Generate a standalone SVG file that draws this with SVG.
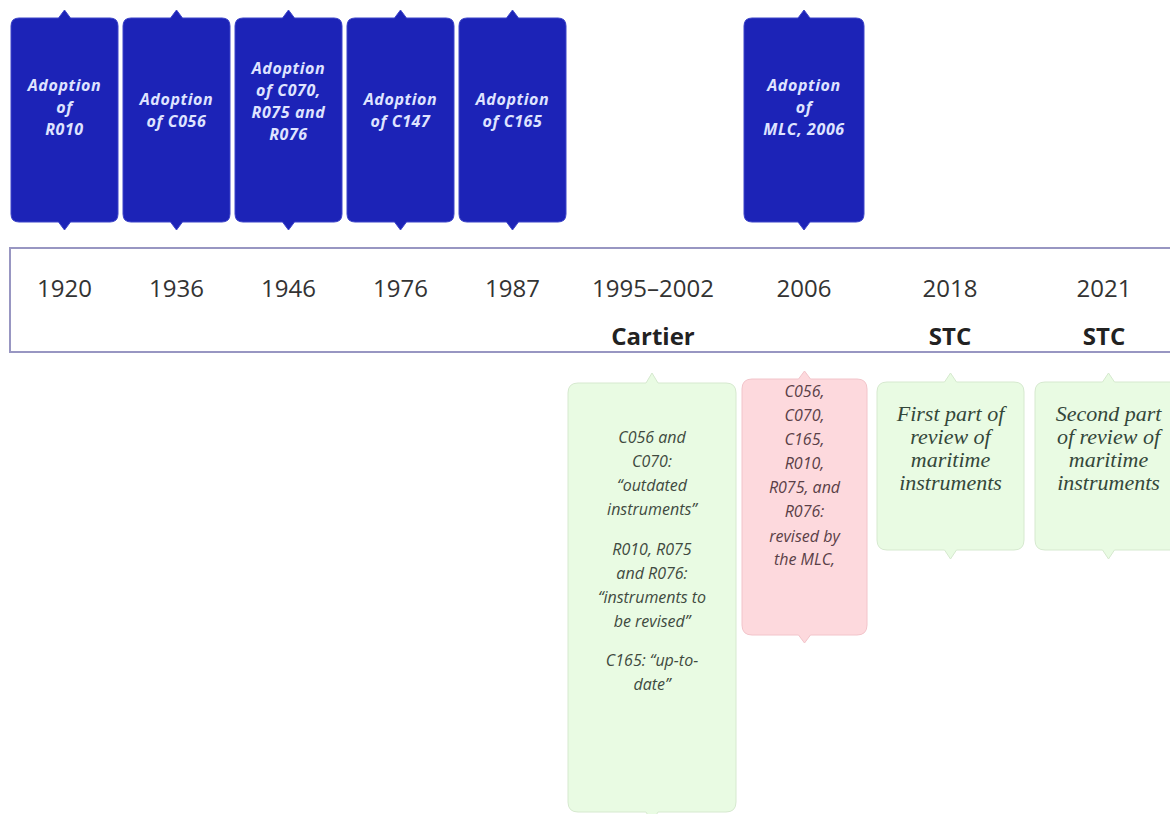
<svg xmlns="http://www.w3.org/2000/svg" width="1170" height="814" viewBox="0 0 1170 814">
<style>
.bg{fill:#ffffff}
.blue{fill:#1c23b7;stroke:#3d45c9;stroke-width:1}
.green{fill:#e9fbe3;stroke:#d6e9cf;stroke-width:1}
.pink{fill:#fdd9dd;stroke:#f2c4ca;stroke-width:1}
.axis{fill:#ffffff;stroke:#9896c2;stroke-width:2}
.bt{font-family:"Open Sans","DejaVu Sans",sans-serif;font-size:16px;font-weight:bold;font-style:italic;fill:#dfe3ff;text-anchor:middle;letter-spacing:0.6px}
.yr{font-family:"Open Sans","DejaVu Sans",sans-serif;font-size:24px;fill:#333333;text-anchor:middle}
.sec{font-family:"Open Sans","DejaVu Sans",sans-serif;font-size:24px;font-weight:bold;fill:#222222;text-anchor:middle}
.gt{font-family:"Open Sans","DejaVu Sans",sans-serif;font-size:16px;font-style:italic;fill:#3f4a3f;text-anchor:middle}
.pt{font-family:"Open Sans","DejaVu Sans",sans-serif;font-size:16px;font-style:italic;fill:#5a4047;text-anchor:middle}
.st{font-family:"Liberation Serif","DejaVu Serif",serif;font-size:22px;font-style:italic;fill:#34473a;text-anchor:middle}
</style>
<defs>
<path id="bbox" d="M8,0 L47.5,0 L53.5,-8 L59.5,0 L99,0 Q107,0 107,8 L107,196 Q107,204 99,204 L59.5,204 L53.5,212 L47.5,204 L8,204 Q0,204 0,196 L0,8 Q0,0 8,0 Z"/>
<path id="sbox" d="M10,0 L67.5,0 L73.5,-9 L79.5,0 L137,0 Q147,0 147,10 L147,158 Q147,168 137,168 L79.5,168 L73.5,177 L67.5,168 L10,168 Q0,168 0,158 L0,10 Q0,0 10,0 Z"/>
</defs>
<rect class="bg" x="0" y="0" width="1170" height="814"/>

<g id="timeline">
<rect class="axis" x="10" y="248" width="1180" height="104"/>
<text class="yr" x="64.5" y="297">1920</text>
<text class="yr" x="176.5" y="297">1936</text>
<text class="yr" x="288.5" y="297">1946</text>
<text class="yr" x="400.5" y="297">1976</text>
<text class="yr" x="512.5" y="297">1987</text>
<text class="yr" x="653" y="297">1995–2002</text>
<text class="yr" x="804" y="297">2006</text>
<text class="yr" x="950" y="297">2018</text>
<text class="yr" x="1104" y="297">2021</text>
<text class="sec" x="653" y="345">Cartier</text>
<text class="sec" x="950" y="345">STC</text>
<text class="sec" x="1104" y="345">STC</text>
</g>

<g id="connectors"></g>

<g id="adopt-1920">
<use href="#bbox" class="blue" transform="translate(11,18)"/>
<text class="bt" x="64.5" y="91">Adoption</text>
<text class="bt" x="64.5" y="113">of</text>
<text class="bt" x="64.5" y="135">R010</text>
</g>
<g id="adopt-1936">
<use href="#bbox" class="blue" transform="translate(123,18)"/>
<text class="bt" x="176.5" y="105">Adoption</text>
<text class="bt" x="176.5" y="127">of C056</text>
</g>
<g id="adopt-1946">
<use href="#bbox" class="blue" transform="translate(235,18)"/>
<text class="bt" x="288.5" y="74">Adoption</text>
<text class="bt" x="288.5" y="96">of C070,</text>
<text class="bt" x="288.5" y="118">R075 and</text>
<text class="bt" x="288.5" y="140">R076</text>
</g>
<g id="adopt-1976">
<use href="#bbox" class="blue" transform="translate(347,18)"/>
<text class="bt" x="400.5" y="105">Adoption</text>
<text class="bt" x="400.5" y="127">of C147</text>
</g>
<g id="adopt-1987">
<use href="#bbox" class="blue" transform="translate(459,18)"/>
<text class="bt" x="512.5" y="105">Adoption</text>
<text class="bt" x="512.5" y="127">of C165</text>
</g>
<g id="adopt-2006">
<path class="blue" transform="translate(744,18)" d="M8,0 L54,0 L60,-8 L66,0 L112,0 Q120,0 120,8 L120,196 Q120,204 112,204 L66,204 L60,212 L54,204 L8,204 Q0,204 0,196 L0,8 Q0,0 8,0 Z"/>
<text class="bt" x="804" y="91">Adoption</text>
<text class="bt" x="804" y="113">of</text>
<text class="bt" x="804" y="135">MLC, 2006</text>
</g>

<g id="cartier-note">
<path class="green" transform="translate(568,383)" d="M10,0 L78,0 L84,-10 L90,0 L158,0 Q168,0 168,10 L168,419 Q168,429 158,429 L90,429 L84,439 L78,429 L10,429 Q0,429 0,419 L0,10 Q0,0 10,0 Z"/>
<text class="gt" x="652" y="443">C056 and</text>
<text class="gt" x="652" y="467">C070:</text>
<text class="gt" x="652" y="491">“outdated</text>
<text class="gt" x="652" y="515">instruments”</text>
<text class="gt" x="652" y="555">R010, R075</text>
<text class="gt" x="652" y="579">and R076:</text>
<text class="gt" x="652" y="603">“instruments to</text>
<text class="gt" x="652" y="627">be revised”</text>
<text class="gt" x="652" y="666">C165: “up-to-</text>
<text class="gt" x="652" y="690">date”</text>
</g>
<g id="mlc-note">
<path class="pink" transform="translate(742,379)" d="M10,0 L56.5,0 L62.5,-8 L68.5,0 L115,0 Q125,0 125,10 L125,246 Q125,256 115,256 L68.5,256 L62.5,264 L56.5,256 L10,256 Q0,256 0,246 L0,10 Q0,0 10,0 Z"/>
<text class="pt" x="804.5" y="397">C056,</text>
<text class="pt" x="804.5" y="421">C070,</text>
<text class="pt" x="804.5" y="445">C165,</text>
<text class="pt" x="804.5" y="469">R010,</text>
<text class="pt" x="804.5" y="493">R075, and</text>
<text class="pt" x="804.5" y="517">R076:</text>
<text class="pt" x="804.5" y="542">revised by</text>
<text class="pt" x="804.5" y="565">the MLC,</text>
</g>
<g id="stc-2018-note">
<use href="#sbox" class="green" transform="translate(877,382)"/>
<text class="st" x="950.5" y="421">First part of</text>
<text class="st" x="950.5" y="444">review of</text>
<text class="st" x="950.5" y="467">maritime</text>
<text class="st" x="950.5" y="490">instruments</text>
</g>
<g id="stc-2021-note">
<use href="#sbox" class="green" transform="translate(1035,382)"/>
<text class="st" x="1108.5" y="421">Second part</text>
<text class="st" x="1108.5" y="444">of review of</text>
<text class="st" x="1108.5" y="467">maritime</text>
<text class="st" x="1108.5" y="490">instruments</text>
</g>
</svg>
